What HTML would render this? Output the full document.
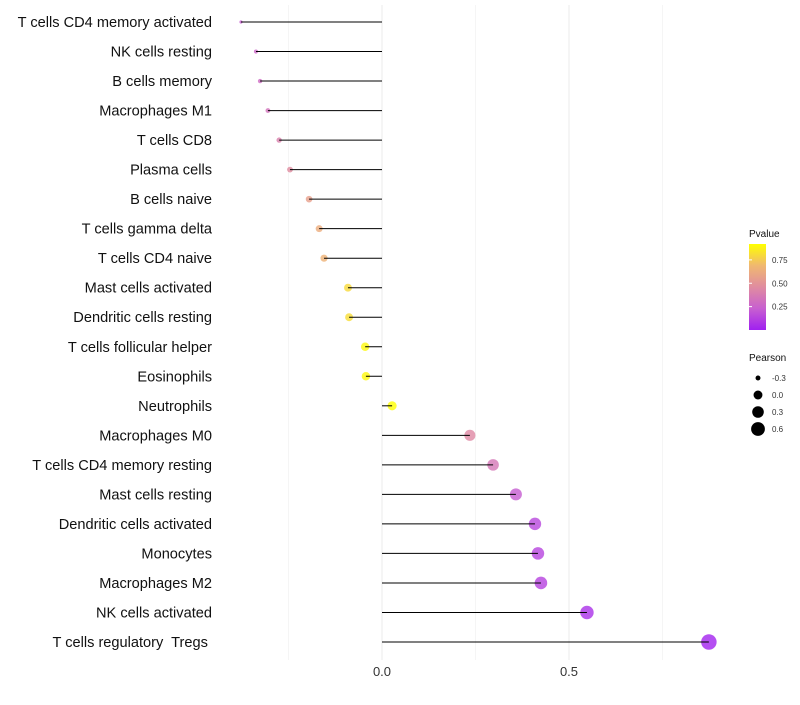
<!DOCTYPE html>
<html><head><meta charset="utf-8"><style>
body{margin:0;background:#fff;}
svg{font-family:"Liberation Sans",sans-serif;}
</style></head><body>
<svg id="chart" width="800" height="700"></svg>
<script>
const categories=["T cells CD4 memory activated","NK cells resting","B cells memory","Macrophages M1","T cells CD8","Plasma cells","B cells naive","T cells gamma delta","T cells CD4 naive","Mast cells activated","Dendritic cells resting","T cells follicular helper","Eosinophils","Neutrophils","Macrophages M0","T cells CD4 memory resting","Mast cells resting","Dendritic cells activated","Monocytes","Macrophages M2","NK cells activated","T cells regulatory  Tregs "];
const pearson=[-0.377,-0.337,-0.326,-0.305,-0.275,-0.246,-0.195,-0.168,-0.155,-0.091,-0.088,-0.045,-0.043,0.027,0.235,0.297,0.358,0.409,0.417,0.425,0.548,0.874];
const pvalues=[0.22,0.27,0.29,0.33,0.4,0.46,0.56,0.63,0.66,0.8,0.81,0.9,0.9,0.92,0.44,0.35,0.22,0.14,0.13,0.12,0.06,0.01];
const xTicks=[0,0.5];
const xGrid=[-0.25,0.25,0.75];
const legendPearson=[-0.3,0.0,0.3,0.6];
const legendP=[0.25,0.5,0.75];
const NS="http://www.w3.org/2000/svg";
const svg=document.getElementById("chart");
const x=v=>382+v*374;
const y=i=>22+i*(620/21);
const r=v=>Math.sqrt(2.5+46*(v+0.377));
const pmax=0.92;
const stops=[[160,32,240],[200,96,208],[224,140,160],[240,184,112],[255,255,0]];
function col(p){const t=Math.max(0,Math.min(1,p/pmax))*4;const i=Math.min(3,Math.floor(t));const f=t-i;
 const a=stops[i],b=stops[i+1];
 return `rgb(${a.map((c,k)=>Math.round(c+(b[k]-c)*f)).join(",")})`;}
function mk(tag,attrs){const e=document.createElementNS(NS,tag);for(const k in attrs)e.setAttribute(k,attrs[k]);svg.appendChild(e);return e;}
xGrid.concat(xTicks).forEach(v=>{const g=mk("line",{x1:x(v),x2:x(v),y1:5,y2:660,stroke:"#ebebeb","stroke-width":xTicks.includes(v)?1:0.5});

});
xTicks.forEach(v=>{const t=mk("text",{x:x(v),y:676,"text-anchor":"middle","font-size":13,fill:"#333"});t.textContent=v.toFixed(1);

});
categories.forEach((c,i)=>{
 const t=mk("text",{x:212,y:y(i)+5,"text-anchor":"end","font-size":14.6,fill:"#111"});t.textContent=c;
 t.setAttribute("xml:space","preserve");t.style.whiteSpace="pre";
 
 
 const d=mk("circle",{cx:x(pearson[i]),cy:y(i),r:r(pearson[i]),fill:col(pvalues[i]),"fill-opacity":0.8});
 
 
 const l=mk("line",{x1:x(0),x2:x(pearson[i]),y1:y(i),y2:y(i),stroke:"#000","stroke-width":1});
 
 
});
let lt=mk("text",{x:749,y:237,"font-size":10,fill:"#111"});lt.textContent="Pvalue";


const defs=mk("defs",{});
const grad=document.createElementNS(NS,"linearGradient");grad.setAttribute("id","pg");grad.setAttribute("x1","0");grad.setAttribute("y1","1");grad.setAttribute("x2","0");grad.setAttribute("y2","0");
[0,0.25,0.5,0.75,1].forEach(s=>{const st=document.createElementNS(NS,"stop");st.setAttribute("offset",s);st.setAttribute("stop-color",col(s*pmax));grad.appendChild(st);});
defs.appendChild(grad);
const cb=mk("rect",{x:749,y:244,width:17,height:86,fill:"url(#pg)"});


legendP.forEach(p=>{const yy=330-p/pmax*86;
 const tk=mk("line",{x1:749,x2:752,y1:yy,y2:yy,stroke:"#fff"});
 
 
 const t=mk("text",{x:772,y:yy+3,"font-size":8,fill:"#333"});t.textContent=p.toFixed(2);
 
 });
let pt=mk("text",{x:749,y:361,"font-size":10,fill:"#111"});pt.textContent="Pearson";


legendPearson.forEach((v,k)=>{const yy=378+k*17;
 const c=mk("circle",{cx:758,cy:yy,r:r(v),fill:"#000"});
 
 
 const t=mk("text",{x:772,y:yy+3,"font-size":8,fill:"#333"});t.textContent=v.toFixed(1);
 
 });
</script>
</body></html>
